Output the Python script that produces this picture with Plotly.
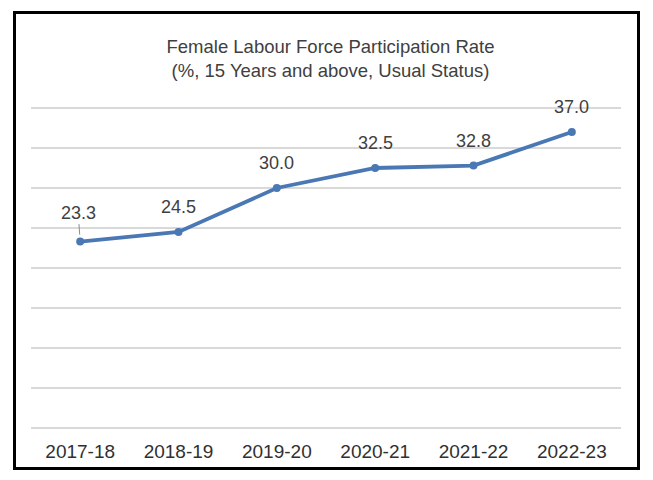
import plotly.graph_objects as go

years = ["2017-18", "2018-19", "2019-20", "2020-21", "2021-22", "2022-23"]
flfpr = [23.3, 24.5, 30.0, 32.5, 32.8, 37.0]
title_lines = ["Female Labour Force Participation Rate", "(%, 15 Years and above, Usual Status)"]

FONT = "Liberation Sans Narrow, Arial Narrow, Liberation Sans, Arial, sans-serif"
LINE = "#4A78B4"
TXT = "#404040"

# the page body has an 8px margin, so the figure is laid out 8px smaller
W, H = 645, 472
YMAX = 40.5
L, R, B = 23, 32, 52
T = int(round((H - B) - 8 * YMAX))
PW, PH = W - L - R, H - T - B

fig = go.Figure()
fig.add_trace(go.Scatter(
    x=years, y=flfpr, mode="lines+markers",
    line=dict(color=LINE, width=3.8),
    marker=dict(color=LINE, size=8, symbol="circle"),
    hoverinfo="skip", showlegend=False,
))

annotations = []
for i, (x, v) in enumerate(zip(years, flfpr)):
    if i == 0:
        annotations.append(dict(x=x, y=v, xref="x", yref="y", text=f"{v:.1f}",
                                showarrow=True, arrowhead=0, arrowwidth=1,
                                arrowcolor="#8C8C8C", ax=-2, ay=-29, standoff=7,
                                font=dict(family=FONT, size=18, color=TXT)))
    else:
        annotations.append(dict(x=x, y=v, xref="x", yref="y", text=f"{v:.1f}",
                                showarrow=False, yshift=25,
                                font=dict(family=FONT, size=18, color=TXT)))

fig.update_layout(
    width=W, height=H,
    margin=dict(l=L, r=R, t=T, b=B, pad=0),
    paper_bgcolor="white", plot_bgcolor="white",
    title=dict(text="<br>".join(title_lines), x=0.5, xanchor="center",
               y=1 - 45 / H, yanchor="middle",
               font=dict(family=FONT, size=18.5, color=TXT)),
    xaxis=dict(showgrid=False, showline=False, zeroline=False, ticks="",
               tickfont=dict(family=FONT, size=19, color="#303030"),
               ticklabelstandoff=10, range=[-0.5, 5.5]),
    yaxis=dict(range=[0, YMAX], tickvals=[5, 10, 15, 20, 25, 30, 35, 40],
               showgrid=True, gridcolor="#D9D9D9",
               gridwidth=1.5, showticklabels=False, zeroline=True,
               zerolinecolor="#D9D9D9", zerolinewidth=1.5, showline=False),
    annotations=annotations,
    shapes=[dict(type="rect", xref="paper", yref="paper",
                 x0=(6.5 - L) / PW, x1=(630.5 - L) / PW,
                 y0=(H - B - 460.5) / PH, y1=(H - B - 4.5) / PH,
                 line=dict(color="black", width=3), fillcolor="rgba(0,0,0,0)",
                 layer="above")],
)

fig.write_html("out.html")
